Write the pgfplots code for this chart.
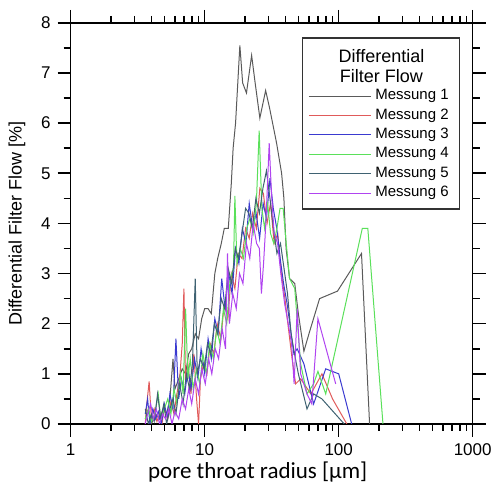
\documentclass[border=0pt]{standalone}
\usepackage{pgfplots}
\pgfplotsset{compat=1.18}
\usepackage{fontspec}
\setmainfont{Liberation Sans}
\newfontfamily\calibri{Carlito}

\definecolor{mone}{HTML}{5A5A5A}
\definecolor{mtwo}{HTML}{E05A5A}
\definecolor{mthree}{HTML}{3A3AD0}
\definecolor{mfour}{HTML}{5AE05A}
\definecolor{mfive}{HTML}{3F6272}
\definecolor{msix}{HTML}{B044F0}

\begin{document}
\begin{tikzpicture}
\begin{axis}[
    name=ax,
    scale only axis,
    width=201pt, height=200.6pt,
    xmode=log, xmin=1, xmax=1000,
    ymin=0, ymax=8,
    xtick={1,10,100,1000}, xticklabels={1,10,100,1000},
    ytick={0,1,...,8}, minor y tick num=1,
    tick align=outside,
    major tick length=6.5pt, minor tick length=3.5pt,
    axis line style={line width=0.8pt},
    every tick/.style={black, line width=0.8pt},
    /pgf/number format/assume math mode=true,
    tick label style={font=\fontsize{8.5}{10}\selectfont},
    xlabel={\calibri\fontsize{11.5}{13}\selectfont pore throat radius [µm]},
    ylabel={\fontsize{9}{11}\selectfont Differential Filter Flow [\%]},
    xlabel style={yshift=4pt, xshift=-7pt},
    ylabel style={yshift=1pt},
    legend cell align=left,
    legend style={draw=none, fill=none, at={(rel axis cs:0.59,0.845)}, anchor=north west,
        font=\fontsize{7.5}{9}\selectfont, row sep=-1pt, inner sep=0pt},
    legend image code/.code={\draw[#1, line width=0.5pt] (0pt,0pt) -- (31pt,0pt);},
    every axis plot/.append style={line width=0.5pt},
]
% Messung 1
\addplot[mone] coordinates {
(3.6,0.1) (3.8,0.3) (4.0,0.0) (4.3,0.2) (4.6,0.1) (4.9,0.3) (5.2,0.2) (5.5,0.5)
(5.8,1.3) (6.0,0.7) (6.4,0.9) (6.8,1.1) (7.2,1.0) (7.6,1.4) (8.0,1.5) (8.5,1.8)
(9.0,1.7) (9.5,2.1) (10.0,2.3) (10.6,2.3) (11.2,2.2) (11.9,3.0) (12.5,3.3) (13.3,3.6)
(14.0,3.9) (15.0,3.9) (15.8,4.8) (16.3,5.5) (17.0,6.0) (18.3,7.55) (19.2,6.8) (20.5,6.6)
(22.4,7.35) (23.8,6.8) (25.8,6.1) (28.5,6.65) (30.5,6.3) (34.4,5.6) (37.5,5.0) (39.0,4.5)
(40.5,3.5) (43,2.9) (47,2.8) (50,2.2) (55,1.45) (60,1.8) (72,2.5) (98,2.65) (148,3.4) (170,0.0)
};
\addlegendentry{Messung 1}
% Messung 2
\addplot[mtwo] coordinates {
(3.6,0.0) (3.7,0.4) (3.85,0.85) (4.0,0.1) (4.2,0.3) (4.4,0.05) (4.6,0.2) (4.8,0.0)
(5.0,0.35) (5.3,0.1) (5.6,0.45) (5.9,0.2) (6.2,0.6) (6.5,0.9) (6.8,1.6) (7.0,2.7)
(7.2,0.8) (7.5,1.2) (7.9,0.6) (8.3,1.4) (8.7,0.5) (9.0,0.0) (9.3,0.9) (9.8,1.2)
(10.4,1.0) (11.0,1.6) (11.7,1.4) (12.4,2.0) (13.2,1.7) (14.0,2.4) (14.9,2.1) (15.8,3.0)
(16.8,2.7) (17.8,3.4) (19.0,3.3) (20.2,3.9) (21.5,3.7) (22.8,4.2) (24.3,3.9) (25.8,4.7)
(27.4,4.6) (29.2,4.0) (31.0,4.4) (33.0,3.6) (35.1,3.8) (37.3,3.0) (39.7,2.5) (42.2,1.9)
(44.9,1.3) (47.7,0.8) (52,0.9) (62,0.6) (75,1.0) (90,0.5) (115,0.0)
};
\addlegendentry{Messung 2}
% Messung 3
\addplot[mthree] coordinates {
(3.6,0.2) (3.75,0.5) (3.9,0.0) (4.1,0.3) (4.3,0.1) (4.5,0.25) (4.75,0.0) (5.0,0.4)
(5.25,0.15) (5.5,0.6) (5.8,0.3) (6.1,1.7) (6.4,0.5) (6.7,0.9) (7.1,0.6) (7.5,1.1)
(7.9,0.7) (8.4,1.3) (8.9,0.9) (9.4,1.5) (10.0,1.0) (10.6,1.7) (11.2,1.3) (11.9,2.1)
(12.6,1.8) (13.4,2.9) (14.2,2.3) (15.1,3.0) (16.0,2.6) (17.0,3.5) (18.0,3.2) (19.1,3.9)
(20.3,3.6) (21.5,4.4) (22.8,3.9) (24.2,4.2) (25.7,3.7) (27.3,4.4) (28.9,4.1) (30.7,4.9)
(32.5,4.3) (34.5,3.9) (36.6,3.3) (38.8,2.8) (41.2,2.4) (43.7,1.9) (46.3,1.4) (49,1.5)
(55,1.2) (65,0.4) (80,1.1) (100,1.0) (125,0.0)
};
\addlegendentry{Messung 3}
% Messung 4
\addplot[mfour] coordinates {
(3.6,0.1) (3.8,0.3) (4.0,0.05) (4.25,0.2) (4.5,0.6) (4.7,0.1) (5.0,0.3) (5.3,0.5)
(5.6,0.2) (5.9,0.7) (6.2,0.4) (6.6,1.0) (6.9,0.6) (7.2,2.3) (7.5,0.9) (7.8,1.3)
(8.2,0.7) (8.7,1.1) (9.2,0.8) (9.7,1.4) (10.3,1.0) (10.9,1.6) (11.6,1.3) (12.3,1.9)
(13.0,1.6) (13.8,2.3) (14.6,2.0) (15.5,2.9) (16.4,3.1) (16.8,4.55) (17.4,3.2) (18.4,3.5)
(19.5,3.3) (20.6,3.9) (21.8,4.1) (23.0,3.8) (24.3,4.4) (25.5,5.85) (26.7,4.3) (28.0,3.9)
(29.5,4.4) (31.0,3.8) (32.8,3.6) (34.6,3.9) (36.5,4.3) (38.5,4.3) (40.6,3.6) (43,2.9)
(47,2.7) (52,1.2) (58,0.6) (65,0.8) (70,1.05) (80,0.6) (150,3.9) (165,3.9) (214,0.0)
};
\addlegendentry{Messung 4}
% Messung 5
\addplot[mfive] coordinates {
(3.6,0.3) (3.8,0.0) (4.0,0.2) (4.2,0.05) (4.45,0.6) (4.7,0.1) (4.95,0.4) (5.2,0.0)
(5.5,0.3) (5.8,0.5) (6.1,0.2) (6.5,0.8) (6.9,0.4) (7.3,1.0) (7.7,0.7) (8.1,1.2)
(8.5,2.9) (8.8,1.0) (9.3,1.3) (9.9,1.1) (10.5,1.6) (11.1,1.4) (11.8,2.0) (12.5,1.8)
(13.3,2.5) (14.1,2.3) (15.0,3.1) (15.9,2.8) (16.9,3.5) (17.9,3.3) (19.0,3.8) (20.2,4.3)
(21.4,4.2) (22.7,3.9) (24.1,4.5) (25.6,4.2) (27.2,4.7) (28.9,5.05) (30.7,4.5) (32.6,3.9)
(34.6,3.4) (36.8,3.6) (39.1,3.1) (41.5,2.6) (44.1,1.8) (46.8,1.4) (50,1.0) (58,0.3)
(65,0.6) (75,0.5) (110,0.0)
};
\addlegendentry{Messung 5}
% Messung 6
\addplot[msix] coordinates {
(3.6,0.0) (3.75,0.2) (3.95,0.4) (4.15,0.1) (4.35,0.3) (4.6,0.0) (4.85,0.2) (5.1,0.1)
(5.4,0.3) (5.7,0.0) (6.0,0.25) (6.4,0.1) (6.8,0.5) (7.2,0.3) (7.6,0.7) (8.0,0.4)
(8.5,0.9) (9.0,0.6) (9.5,1.1) (10.1,0.8) (10.7,1.3) (11.3,1.0) (12.0,1.5) (12.7,1.3)
(13.5,1.9) (14.3,1.5) (14.8,3.4) (15.3,2.0) (16.2,2.6) (17.2,2.3) (18.2,3.0) (19.3,2.8)
(20.5,3.6) (21.7,3.3) (23.0,4.0) (24.4,3.6) (25.6,3.5) (26.5,2.6) (27.5,3.2) (28.6,4.0)
(30.3,5.6) (31.5,4.6) (33.0,3.8) (35,3.6) (37,3.0) (39.5,2.4) (42,2.0) (44.5,1.6)
(46.5,0.8) (49,2.3) (52,1.0) (58,0.6) (63,0.4) (70,2.1) (95,0.8)
};
\addlegendentry{Messung 6}

\draw[line width=0.6pt, black!80] (rel axis cs:0.577,0.962) rectangle (rel axis cs:0.967,0.536);
\node[font=\fontsize{9}{11}\selectfont] at (rel axis cs:0.773,0.917) {Differential};
\node[font=\fontsize{9}{11}\selectfont] at (rel axis cs:0.773,0.867) {Filter Flow};
\end{axis}
\pgfresetboundingbox
\path[use as bounding box] ([shift={(-35.35pt,-31pt)}]ax.south west) rectangle ([shift={(211.15pt,212pt)}]ax.south west);
\end{tikzpicture}
\end{document}
